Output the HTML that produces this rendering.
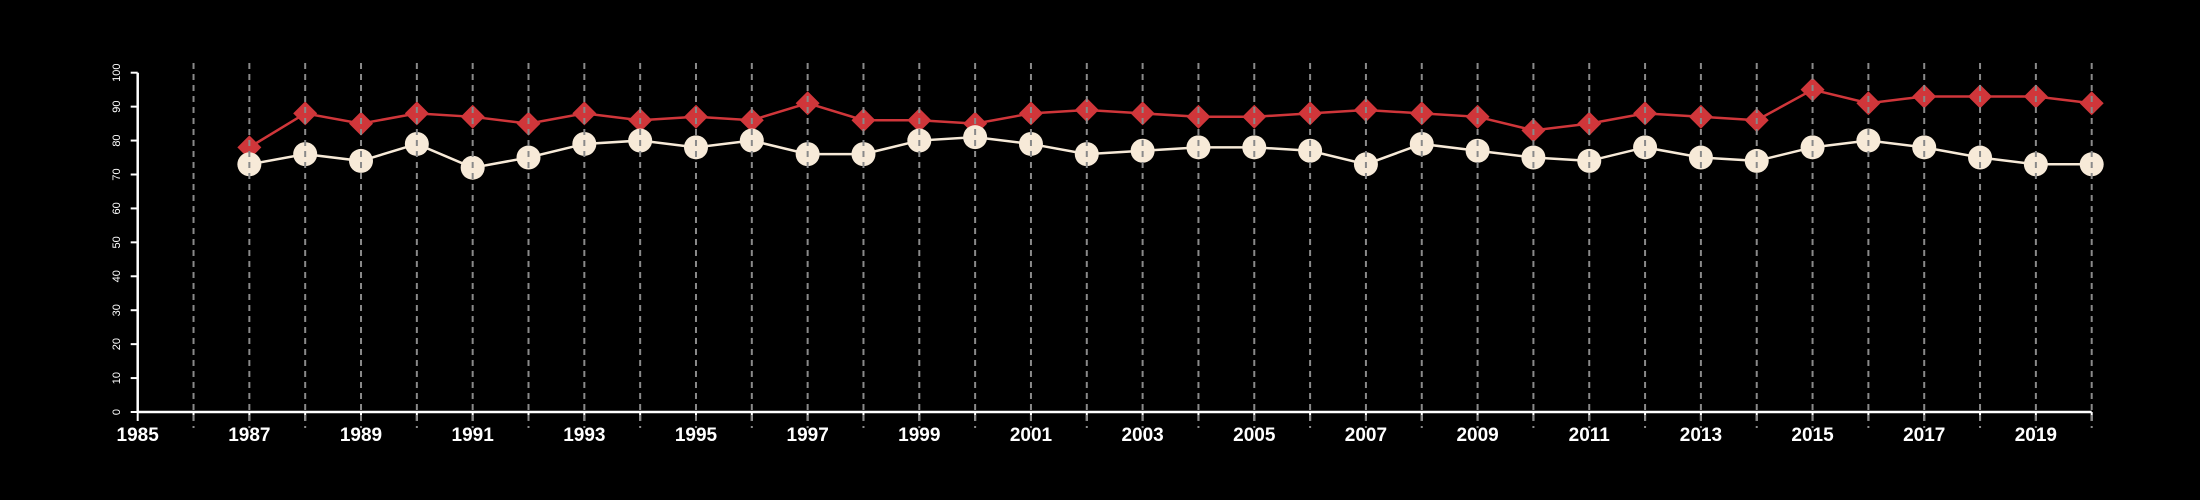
<!DOCTYPE html>
<html><head><meta charset="utf-8"><style>
html,body{margin:0;padding:0;background:#000;}
svg{display:block;}
text{font-family:"Liberation Sans",sans-serif;fill:#fff;}
</style></head><body>
<svg id="chart" width="2200" height="500"></svg>
<script>
const years = [1987,1988,1989,1990,1991,1992,1993,1994,1995,1996,1997,1998,1999,2000,2001,2002,2003,2004,2005,2006,2007,2008,2009,2010,2011,2012,2013,2014,2015,2016,2017,2018,2019,2020];
const redSeries = [78,88,85,88,87,85,88,86,87,86,91,86,86,85,88,89,88,87,87,88,89,88,87,83,85,88,87,86,95,91,93,93,93,91];
const creamSeries = [73,76,74,79,72,75,79,80,78,80,76,76,80,81,79,76,77,78,78,77,73,79,77,75,74,78,75,74,78,80,78,75,73,73];
const yTicks = [0,10,20,30,40,50,60,70,80,90,100];
const xTickYears = [1985,1986,1987,1988,1989,1990,1991,1992,1993,1994,1995,1996,1997,1998,1999,2000,2001,2002,2003,2004,2005,2006,2007,2008,2009,2010,2011,2012,2013,2014,2015,2016,2017,2018,2019,2020];
const xLabelYears = [1985,1987,1989,1991,1993,1995,1997,1999,2001,2003,2005,2007,2009,2011,2013,2015,2017,2019];

const svg = document.getElementById('chart');
const NS = 'http://www.w3.org/2000/svg';
const x0 = 137.7, x1 = 2091.7, xMin = 1985, xMax = 2020;
const yTop = 72.7, yBot = 412;
const xs = v => x0 + (v - xMin) * (x1 - x0) / (xMax - xMin);
const ys = v => yBot - v * (yBot - yTop) / 100;
function mk(tag, attrs, parent) {
  const e = document.createElementNS(NS, tag);
  for (const k in attrs) e.setAttribute(k, attrs[k]);
  (parent || svg).appendChild(e);
  return e;
}
// axes
const yAxis = mk('line', {x1: x0, x2: x0, y1: yTop, y2: yBot, stroke: '#fff', 'stroke-width': 2.5});


yTicks.forEach(t => {
  const tk = mk('line', {x1: x0 - 7, x2: x0, y1: ys(t), y2: ys(t), stroke: '#fff', 'stroke-width': 2});
  
  
  const lb = mk('text', {x: 0, y: 0, 'font-size': 11, 'text-anchor': 'middle', transform: `translate(120,${ys(t)}) rotate(-90)`});
  lb.textContent = t;
  
  
});
const xAxis = mk('line', {x1: x0, x2: x1, y1: yBot, y2: yBot, stroke: '#fff', 'stroke-width': 2.5});


xTickYears.forEach(t => {
  const tk = mk('line', {x1: xs(t), x2: xs(t), y1: yBot, y2: yBot + 9, stroke: '#fff', 'stroke-width': 2});
  
  
});
xLabelYears.forEach(t => {
  const lb = mk('text', {x: xs(t), y: 441, 'font-size': 19, 'font-weight': 'bold', 'text-anchor': 'middle'});
  lb.textContent = t;
  
  
});
// series lines
const redPts = years.map((y, i) => xs(y) + ',' + ys(redSeries[i])).join(' ');
const redLine = mk('polyline', {points: redPts, fill: 'none', stroke: '#d0363a', 'stroke-width': 2.5});


const crPts = years.map((y, i) => xs(y) + ',' + ys(creamSeries[i])).join(' ');
const crLine = mk('polyline', {points: crPts, fill: 'none', stroke: '#f7ead8', 'stroke-width': 2.5});


years.forEach((y, i) => {
  const cx = xs(y), cy = ys(redSeries[i]), r = 12;
  const d = mk('polygon', {points: `${cx},${cy - r} ${cx + r},${cy} ${cx},${cy + r} ${cx - r},${cy}`, fill: '#d0363a'});
  
  
  const c = mk('circle', {cx: cx, cy: ys(creamSeries[i]), r: 12, fill: '#f7ead8'});
  
  
});
// dashed grid lines on top
xTickYears.slice(1).forEach(t => {
  const g = mk('line', {x1: xs(t), x2: xs(t), y1: 63, y2: 428, stroke: '#8a8a8a', 'stroke-width': 2, 'stroke-dasharray': '6,5'});
  
  
});
</script>
</body></html>
